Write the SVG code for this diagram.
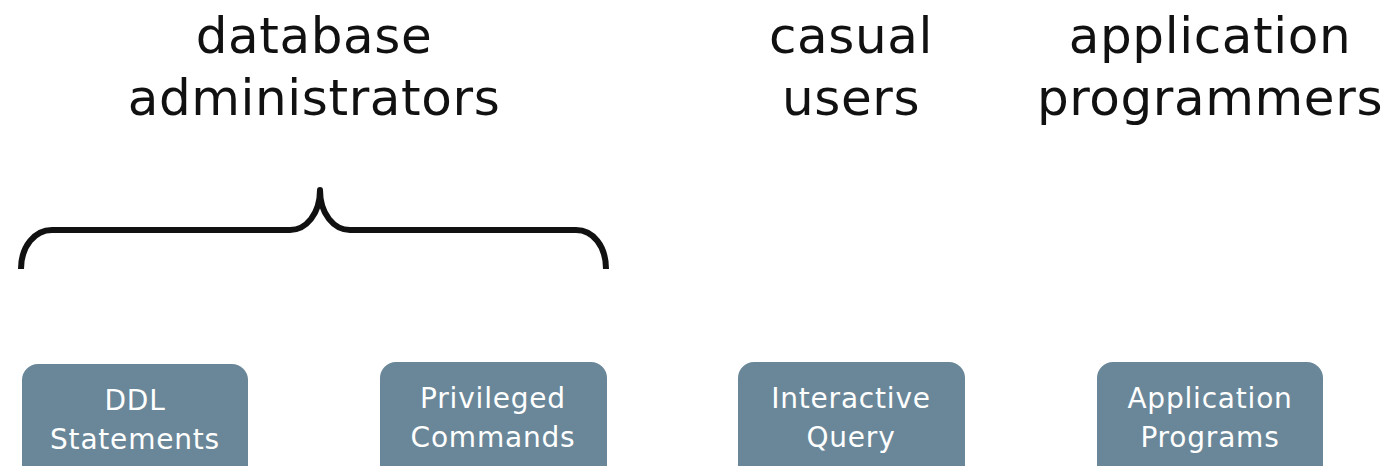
<svg xmlns="http://www.w3.org/2000/svg" width="1391" height="466" viewBox="0 0 1391 466">
<style>
.title{font-family:"DejaVu Sans","Liberation Sans",sans-serif;font-size:50px;letter-spacing:0.6px;fill:#111;text-anchor:middle}
.box{fill:#6a8799}
.lbl{font-family:"DejaVu Sans","Open Sans",sans-serif;font-size:28px;letter-spacing:0.8px;fill:#fff;text-anchor:middle}
</style>
<g id="title-dba"><text class="title" x="314" y="53">database</text><text class="title" x="314" y="115">administrators</text></g>
<g id="title-casual"><text class="title" x="851" y="53">casual</text><text class="title" x="851" y="115">users</text></g>
<g id="title-app"><text class="title" x="1210" y="53">application</text><text class="title" x="1210" y="115">programmers</text></g>
<g id="connectors"><path d="M21,269 C21,246 35,230 52,230 L290,230 C306,230 320,214 320,190 C320,214 334,230 350,230 L576,230 C593,230 606,246 606,269" fill="none" stroke="#111" stroke-width="6" stroke-linecap="butt"/><circle cx="320" cy="190" r="3" fill="#111"/></g>
<g id="node-ddl"><rect class="box" x="22" y="364" width="226" height="120" rx="16"/><text class="lbl" x="135" y="410">DDL</text><text class="lbl" x="135" y="449">Statements</text></g>
<g id="node-priv"><rect class="box" x="380" y="362" width="227" height="120" rx="16"/><text class="lbl" x="493" y="408">Privileged</text><text class="lbl" x="493" y="447">Commands</text></g>
<g id="node-query"><rect class="box" x="738" y="362" width="227" height="120" rx="16"/><text class="lbl" x="851" y="408">Interactive</text><text class="lbl" x="851" y="447">Query</text></g>
<g id="node-prog"><rect class="box" x="1097" y="362" width="226" height="120" rx="16"/><text class="lbl" x="1210" y="408">Application</text><text class="lbl" x="1210" y="447">Programs</text></g>
</svg>
